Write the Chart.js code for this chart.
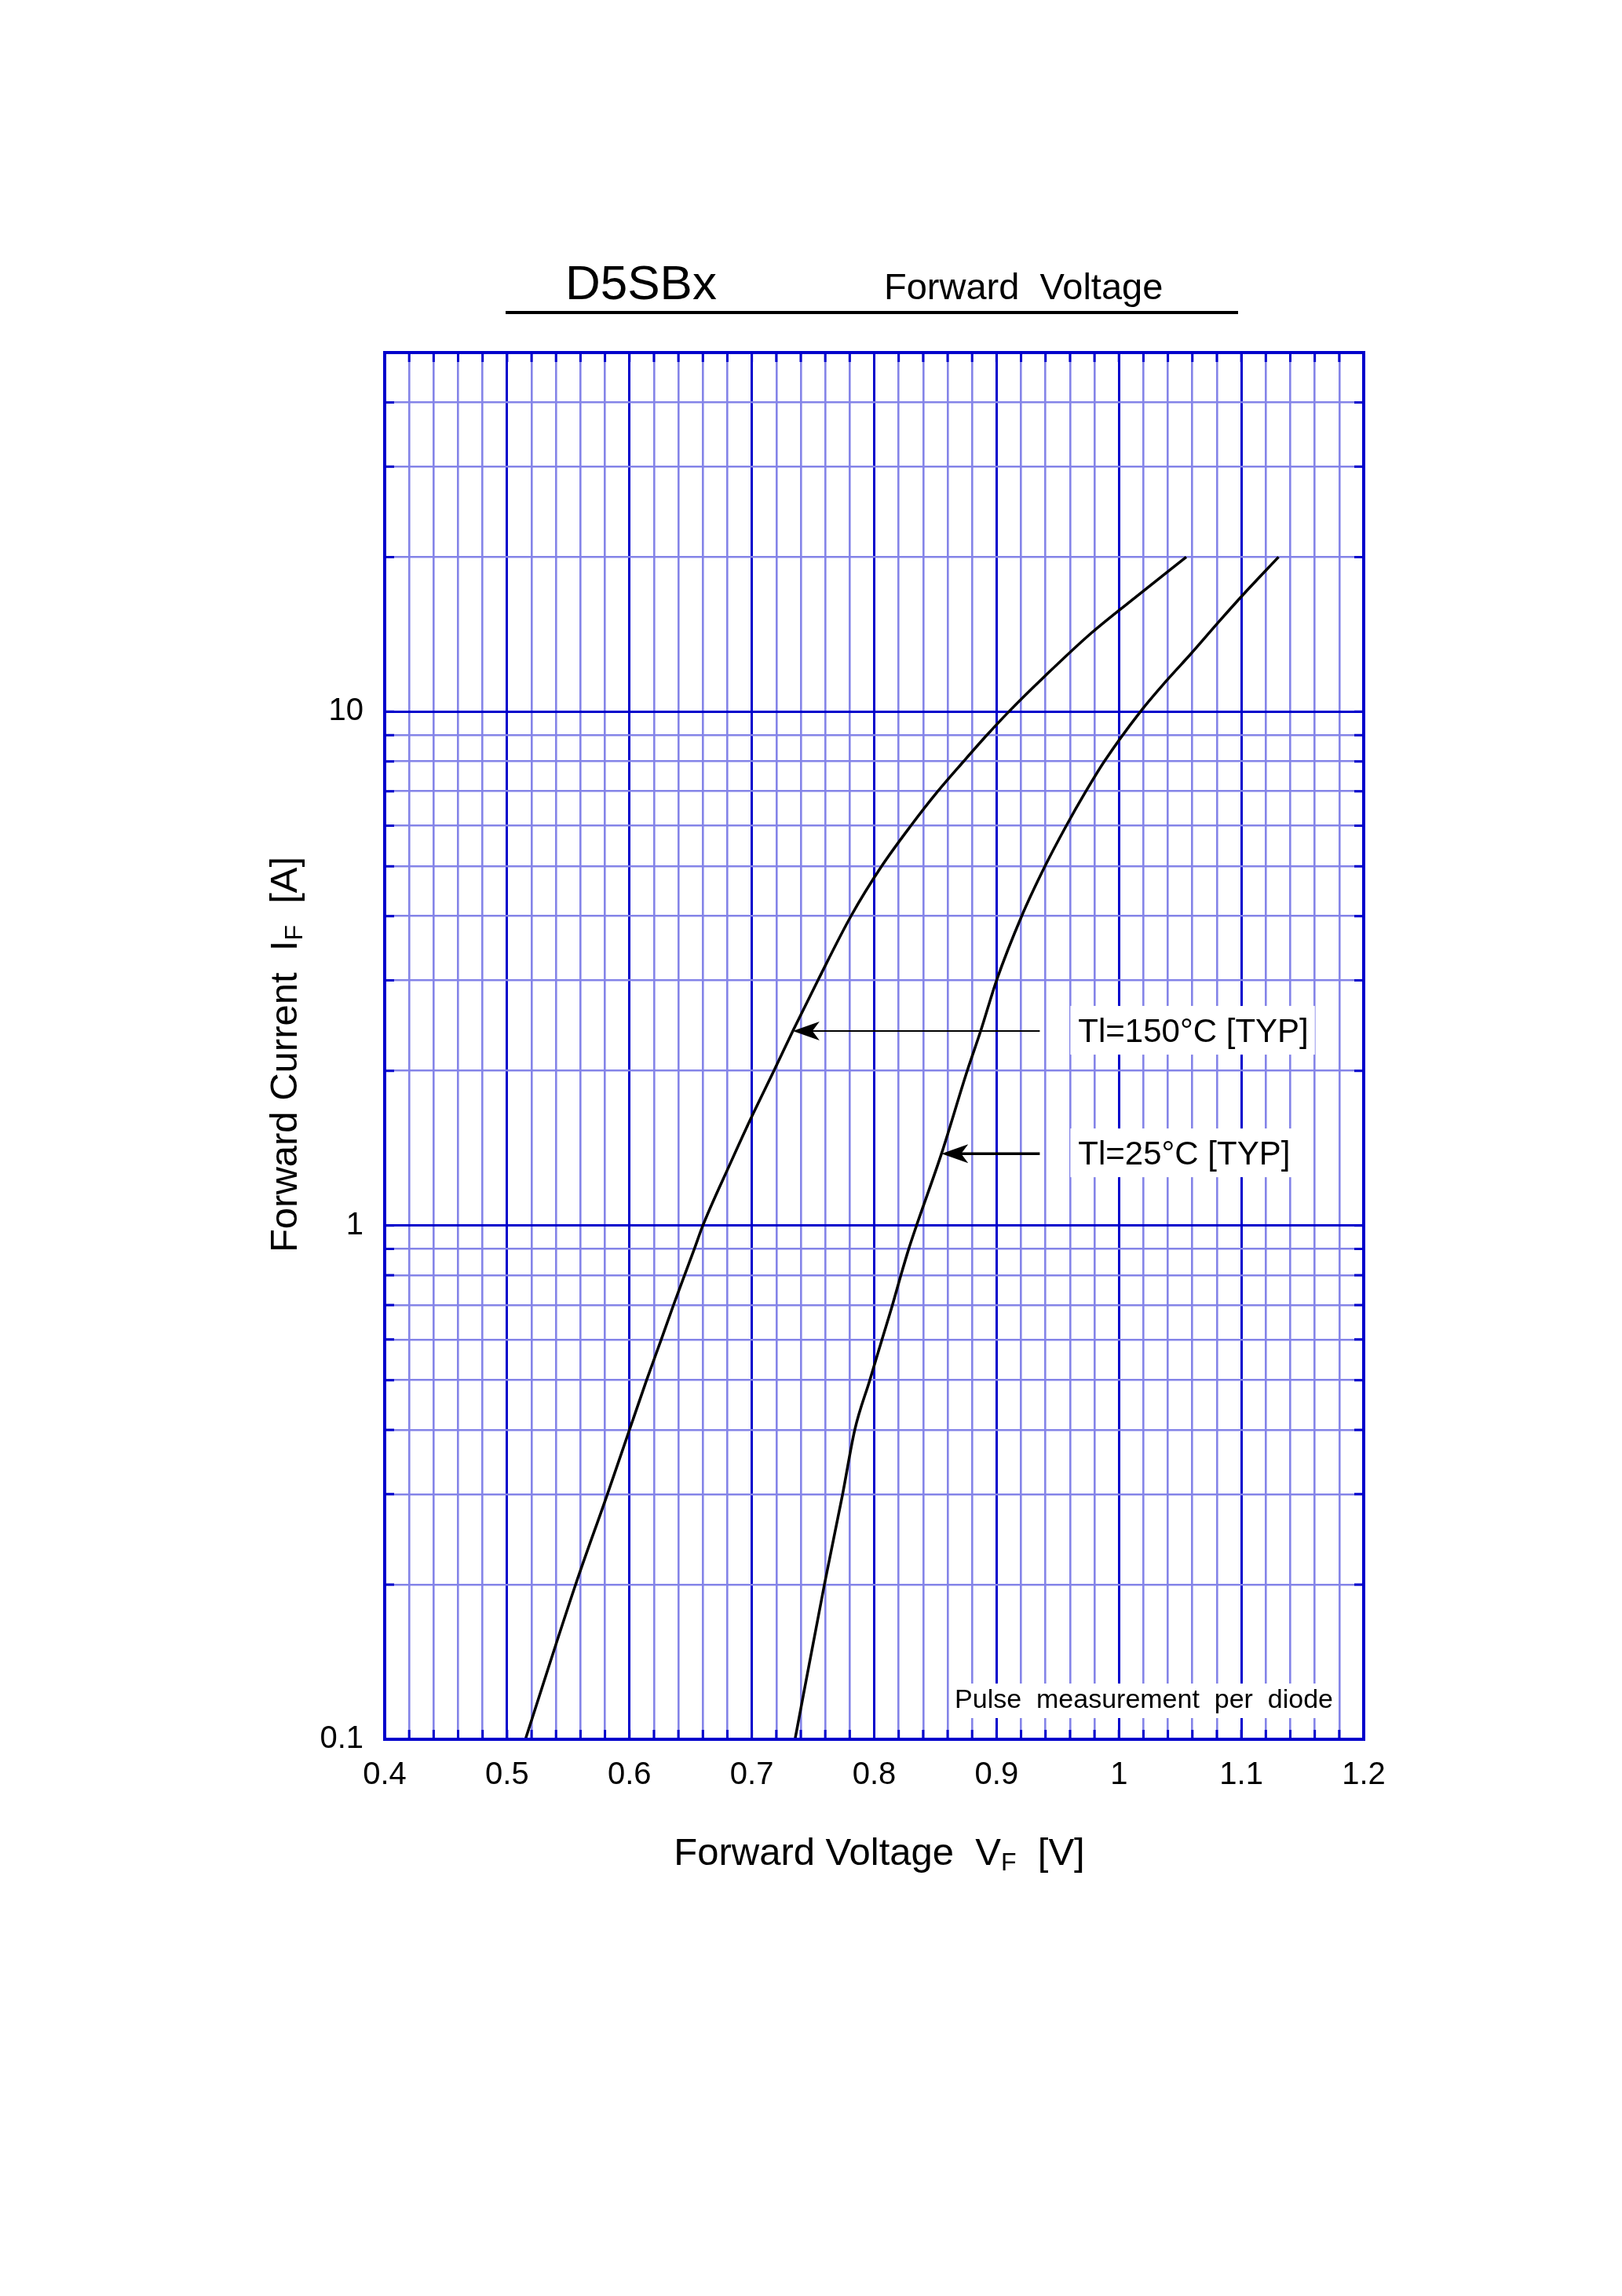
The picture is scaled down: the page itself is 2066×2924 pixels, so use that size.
<!DOCTYPE html>
<html>
<head>
<meta charset="utf-8">
<title>D5SBx Forward Voltage</title>
<script src="https://cdn.jsdelivr.net/npm/chart.js@4.4.1/dist/chart.umd.min.js"></script>
<style>
  html, body { margin: 0; padding: 0; background: #fff; }
  canvas { display: block; }
</style>
</head>
<body>
<canvas id="chart" width="2066" height="2924"></canvas>
<script>
// Tl=150°C curve (V, A)
const hotV = [0.515, 0.556, 0.582, 0.600, 0.614, 0.626, 0.636, 0.645, 0.653, 0.660, 0.683, 0.700, 0.718, 0.7335, 0.754, 0.781, 0.806, 0.830, 0.852, 0.873, 0.892, 0.910, 0.939, 0.977, 1.019, 1.055];
const hotI = [0.1, 0.2, 0.3, 0.4, 0.5, 0.6, 0.7, 0.8, 0.9, 1.0, 1.33, 1.63, 2.0, 2.39, 3.0, 4.0, 5.0, 6.0, 7.0, 8.0, 9.0, 10, 11.7, 14.2, 17.1, 20];

// Tl=25°C curve (V, A)
const roomV = [0.7353, 0.7593, 0.7742, 0.7841, 0.7964, 0.8064, 0.8149, 0.8218, 0.8282, 0.8346, 0.855, 0.876, 0.887, 0.900, 0.9205, 0.9395, 0.957, 0.973, 0.988, 1.0175, 1.039, 1.058, 1.082, 1.1015, 1.1304];
const roomI = [0.1, 0.2, 0.3, 0.4, 0.5, 0.6, 0.7, 0.8, 0.9, 1.0, 1.38, 2.0, 2.39, 3.0, 4.0, 5.0, 6.0, 7.0, 8.0, 10, 11.5, 12.9, 15.0, 16.9, 20];

// axis ticks
const xLabels = ['0.4', '0.5', '0.6', '0.7', '0.8', '0.9', '1', '1.1', '1.2'];
const yGrid = [0.1, 0.2, 0.3, 0.4, 0.5, 0.6, 0.7, 0.8, 0.9, 1, 2, 3, 4, 5, 6, 7, 8, 9, 10, 20, 30, 40, 50];
const yLabels = ['0.1', '1', '10'];

// annotations: arrow tips (V, A), arrow tail voltage, label texts
const arrowTips = [[0.7335, 2.39], [0.855, 1.38]];
const arrowTailV = 0.9353;
const labelStartV = 0.9667;
const labelTexts = ['Tl=150°C [TYP]', 'Tl=25°C [TYP]'];

const DARK = '#0000CC';
const LIGHT = '#8484E8';
const FONT = "'Liberation Sans', Arial, sans-serif";

const near = (a, b) => Math.abs(a - b) < 1e-6;
const isMajorX = v => xLabels.some(l => near(v, parseFloat(l)));
const isMajorY = v => yLabels.some(l => near(v, parseFloat(l)));

function drawParts(ctx, parts, x, y) {
    // parts: [text, size, baseline shift]
    let w = 0;
    parts.forEach(p => { ctx.font = p[1] + 'px ' + FONT; w += ctx.measureText(p[0]).width; });
    let cx = x - w / 2;
    parts.forEach(p => {
        ctx.font = p[1] + 'px ' + FONT;
        ctx.fillText(p[0], cx, y + p[2]);
        cx += ctx.measureText(p[0]).width;
    });
}

function arrow(ctx, x1, y, x2, width) {
    // shaft from x1 (tail) to x2 (tip), head pointing left
    ctx.strokeStyle = '#000';
    ctx.lineWidth = width;
    ctx.beginPath();
    ctx.moveTo(x1, y);
    ctx.lineTo(x2 + 20, y);
    ctx.stroke();
    ctx.fillStyle = '#000';
    ctx.beginPath();
    ctx.moveTo(x2, y);
    ctx.lineTo(x2 + 34, y - 12);
    ctx.lineTo(x2 + 25, y);
    ctx.lineTo(x2 + 34, y + 12);
    ctx.closePath();
    ctx.fill();
}

const decor = {
    id: 'decor',
    beforeDatasetsDraw(chart) {
        const ctx = chart.ctx, a = chart.chartArea;
        const xs = chart.scales.x, ys = chart.scales.y;
        ctx.save();
        // inner tick marks
        ctx.strokeStyle = DARK;
        ctx.lineWidth = 3;
        ctx.beginPath();
        xs.ticks.forEach(t => {
            const px = xs.getPixelForValue(t.value);
            ctx.moveTo(px, a.bottom); ctx.lineTo(px, a.bottom - 12);
            ctx.moveTo(px, a.top); ctx.lineTo(px, a.top + 12);
        });
        ys.ticks.forEach(t => {
            const py = ys.getPixelForValue(t.value);
            ctx.moveTo(a.left, py); ctx.lineTo(a.left + 12, py);
            ctx.moveTo(a.right, py); ctx.lineTo(a.right - 12, py);
        });
        ctx.stroke();

        // label boxes
        ctx.font = '42px ' + FONT;
        ctx.textBaseline = 'alphabetic';
        ctx.textAlign = 'left';
        const lx = xs.getPixelForValue(labelStartV);
        labelTexts.forEach((txt, i) => {
            const py = ys.getPixelForValue(arrowTips[i][1]);
            const w = ctx.measureText(txt).width;
            ctx.fillStyle = '#fff';
            ctx.fillRect(lx - 10, py - 32, w + 18, 62);
            ctx.fillStyle = '#000';
            ctx.fillText(txt, lx, py + 14);
        });

        // pulse note
        ctx.font = '34px ' + FONT;
        const note = 'Pulse  measurement  per  diode';
        const nw = ctx.measureText(note).width;
        const nx = a.right - 39 - nw;
        ctx.fillStyle = '#fff';
        ctx.fillRect(nx - 7, a.bottom - 71, nw + 12, 44);
        ctx.fillStyle = '#000';
        ctx.fillText(note, nx, a.bottom - 40);
        ctx.restore();
    },
    afterDatasetsDraw(chart) {
        const ctx = chart.ctx;
        const xs = chart.scales.x, ys = chart.scales.y;
        ctx.save();
        arrowTips.forEach((tip, i) => {
            arrow(ctx, xs.getPixelForValue(arrowTailV), ys.getPixelForValue(tip[1]),
                xs.getPixelForValue(tip[0]), i === 0 ? 2 : 3.5);
        });
        ctx.restore();
    },
    afterDraw(chart) {
        const ctx = chart.ctx, a = chart.chartArea;
        ctx.save();
        // frame
        ctx.strokeStyle = DARK;
        ctx.lineWidth = 4;
        ctx.strokeRect(a.left, a.top, a.right - a.left, a.bottom - a.top);

        // title
        ctx.fillStyle = '#000';
        ctx.textAlign = 'left';
        ctx.textBaseline = 'alphabetic';
        ctx.font = '62px ' + FONT;
        ctx.fillText('D5SBx', 720, 381);
        ctx.font = '47px ' + FONT;
        ctx.fillText('Forward  Voltage', 1126, 381);
        ctx.fillRect(644, 396, 933, 4);

        // x axis title
        drawParts(ctx, [['Forward Voltage  V', 49, 0], ['F', 32, 7], ['  [V]', 49, 0]], 1120, 2375);

        // y axis title
        ctx.translate(378, 1343);
        ctx.rotate(-Math.PI / 2);
        drawParts(ctx, [['Forward Current  I', 49, 0], ['F', 32, 7], ['  [A]', 49, 0]], 0, 0);
        ctx.restore();
    }
};

const ctx = document.getElementById('chart').getContext('2d');
new Chart(ctx, {
    type: 'scatter',
    data: {
        datasets: [
            {
                label: 'Tl=150°C',
                data: hotV.map((v, i) => ({ x: v, y: hotI[i] })),
                showLine: true,
                borderColor: '#000',
                borderWidth: 3.5,
                pointRadius: 0,
                cubicInterpolationMode: 'monotone'
            },
            {
                label: 'Tl=25°C',
                data: roomV.map((v, i) => ({ x: v, y: roomI[i] })),
                showLine: true,
                borderColor: '#000',
                borderWidth: 3.5,
                pointRadius: 0,
                cubicInterpolationMode: 'monotone'
            }
        ]
    },
    options: {
        responsive: false,
        animation: false,
        devicePixelRatio: 1,
        layout: { padding: { left: 340, right: 329, top: 449, bottom: 589 } },
        plugins: { legend: { display: false }, tooltip: { enabled: false } },
        scales: {
            x: {
                type: 'linear',
                min: 0.4,
                max: 1.2,
                afterFit: s => { s.height = 120; },
                ticks: {
                    stepSize: 0.02,
                    autoSkip: false,
                    maxRotation: 0,
                    padding: 22,
                    color: '#000',
                    font: { family: FONT, size: 40 },
                    callback: v => {
                        const l = xLabels.find(l => near(v, parseFloat(l)));
                        return l === undefined ? '' : l;
                    }
                },
                grid: {
                    drawTicks: false,
                    color: c => isMajorX(c.tick.value) ? DARK : LIGHT,
                    lineWidth: c => isMajorX(c.tick.value) ? 3 : 2.6
                },
                border: { display: false }
            },
            y: {
                type: 'logarithmic',
                min: 0.1,
                max: 50,
                afterFit: s => { s.width = 150; },
                afterBuildTicks: s => { s.ticks = yGrid.map(v => ({ value: v })); },
                ticks: {
                    autoSkip: false,
                    padding: 27,
                    color: '#000',
                    font: { family: FONT, size: 40 },
                    callback: v => {
                        const l = yLabels.find(l => near(v, parseFloat(l)));
                        return l === undefined ? '' : l;
                    }
                },
                grid: {
                    drawTicks: false,
                    color: c => isMajorY(c.tick.value) ? DARK : LIGHT,
                    lineWidth: c => isMajorY(c.tick.value) ? 3 : 2.6
                },
                border: { display: false }
            }
        }
    },
    plugins: [decor]
});
</script>
</body>
</html>
